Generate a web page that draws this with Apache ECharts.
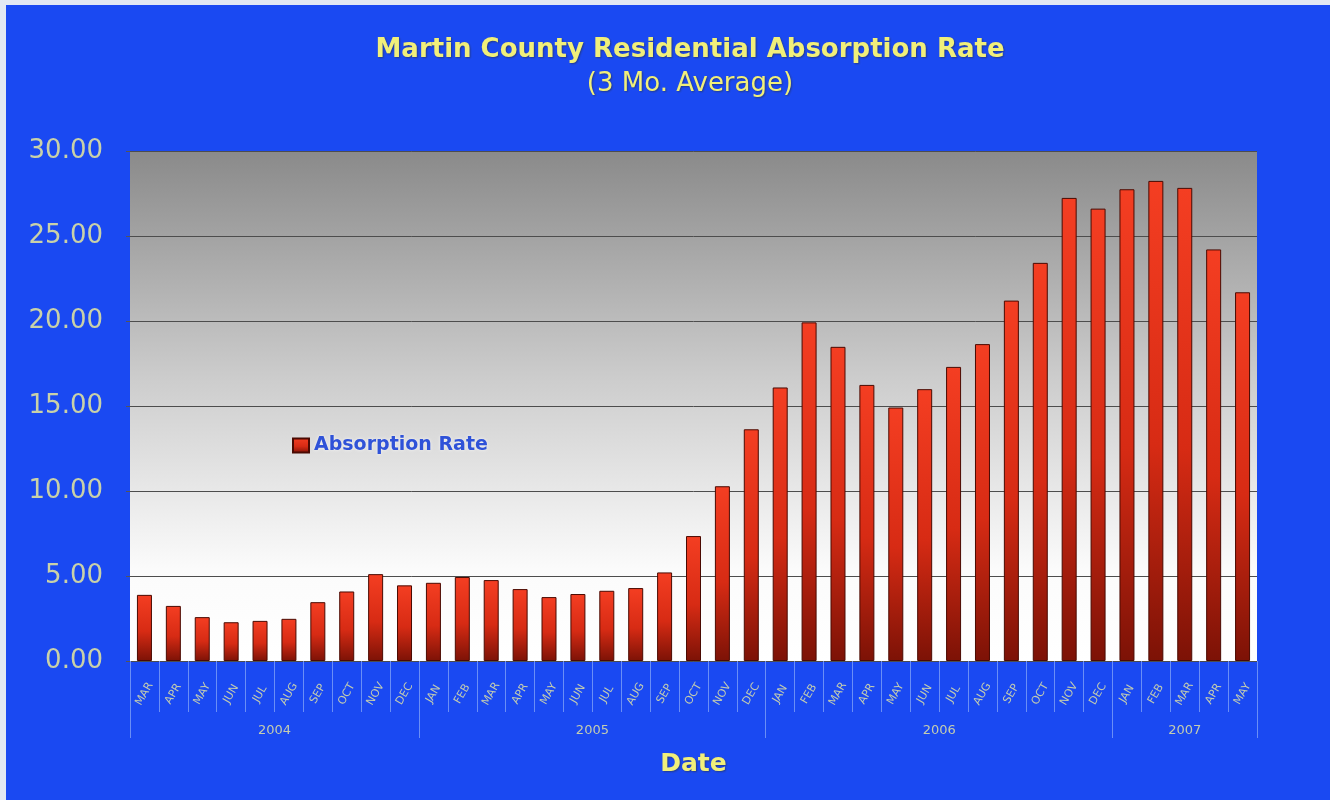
<!DOCTYPE html>
<html>
<head>
<meta charset="utf-8">
<script src="https://cdn.jsdelivr.net/npm/echarts@6/dist/echarts.min.js"></script>
<style>
  html, body { margin: 0; padding: 0; width: 1330px; height: 800px; background: #e2e8f3; overflow: hidden; }
  #chart { position: absolute; left: 6px; top: 5px; width: 1324px; height: 795px; background: #1a49f2; }
</style>
</head>
<body>
<div id="chart"></div>
<script>
// ---- data ----
const yearLabels = ['2004', '2005', '2006', '2007'];
const monthsPerYear = [10, 12, 12, 5];
const monthLabels = [
  'MAR','APR','MAY','JUN','JUL','AUG','SEP','OCT','NOV','DEC',
  'JAN','FEB','MAR','APR','MAY','JUN','JUL','AUG','SEP','OCT','NOV','DEC',
  'JAN','FEB','MAR','APR','MAY','JUN','JUL','AUG','SEP','OCT','NOV','DEC',
  'JAN','FEB','MAR','APR','MAY'
];
const rate2004 = [3.89, 3.24, 2.58, 2.28, 2.36, 2.48, 3.46, 4.09, 5.11, 4.45];
const rate2005 = [4.60, 4.94, 4.76, 4.23, 3.76, 3.94, 4.13, 4.29, 5.21, 7.35, 10.28, 13.63];
const rate2006 = [16.09, 19.92, 18.48, 16.24, 14.91, 15.99, 17.30, 18.64, 21.20, 23.42, 27.24, 26.61];
const rate2007 = [27.75, 28.24, 27.83, 24.21, 21.69];
const yTicks = { min: 0, max: 30, interval: 5 };
const seriesName = 'Absorption Rate';
const titleText = 'Martin County Residential Absorption Rate';
const subtitleText = '(3 Mo. Average)';
const xAxisTitle = 'Date';

// ---- derived ----
const absorption = [].concat(rate2004, rate2005, rate2006, rate2007);
const yearOfCategory = [];
const yearStarts = {};
const yearLabelIdx = {};
let pos = 0;
yearLabels.forEach(function (y, k) {
  const n = monthsPerYear[k];
  yearStarts[pos] = true;
  const mid = pos + (n - 1) / 2;
  yearLabelIdx[Math.floor(mid)] = (mid % 1 !== 0) ? 's' : 'c';
  for (let i = 0; i < n; i++) yearOfCategory.push(y);
  pos += n;
});

const paleText = '#c3ccb0';
const sepColor = '#6a8ef6';
const yellow = '#f1ef7a';

const chart = echarts.init(document.getElementById('chart'));
chart.setOption({
  animation: false,
  backgroundColor: '#1a49f2',
  title: [
    {
      text: titleText, left: 679, textAlign: 'center', top: 27,
      textStyle: { fontFamily: 'DejaVu Sans', fontWeight: 'bold', fontSize: 26, color: yellow,
        textShadowColor: 'rgba(40,40,40,0.5)', textShadowBlur: 2, textShadowOffsetX: 1, textShadowOffsetY: 1 }
    },
    {
      text: subtitleText, left: 679, textAlign: 'center', top: 61,
      textStyle: { fontFamily: 'DejaVu Sans', fontWeight: 'normal', fontSize: 26, color: yellow,
        textShadowColor: 'rgba(40,40,40,0.5)', textShadowBlur: 2, textShadowOffsetX: 1, textShadowOffsetY: 1 }
    }
  ],
  legend: {
    data: [seriesName],
    left: 281, top: 426,
    itemWidth: 16, itemHeight: 14,
    icon: 'rect',
    textStyle: { fontFamily: 'DejaVu Sans', fontWeight: 'bold', fontSize: 19, color: '#2f52d8',
      textShadowColor: 'rgba(255,255,255,0.8)', textShadowBlur: 3 }
  },
  grid: {
    left: 124, right: 73, top: 146, bottom: 139,
    show: true, borderWidth: 0,
    backgroundColor: {
      type: 'linear', x: 0, y: 0, x2: 0, y2: 1,
      colorStops: [
        { offset: 0, color: '#8a8a8a' },
        { offset: 0.45, color: '#cdcdcd' },
        { offset: 0.82, color: '#fbfbfb' },
        { offset: 1, color: '#ffffff' }
      ]
    }
  },
  xAxis: [
    {
      type: 'category', data: monthLabels, position: 'bottom', boundaryGap: true,
      axisLine: { show: false },
      axisTick: { show: true, interval: 0, length: 51, lineStyle: { color: sepColor, width: 1 } },
      axisLabel: { interval: 0, rotate: 60, margin: 33, align: 'center', verticalAlign: 'middle',
        fontFamily: 'DejaVu Sans', fontSize: 11, color: paleText },
      splitLine: { show: false },
      name: xAxisTitle, nameLocation: 'middle', nameGap: 91,
      nameTextStyle: { fontFamily: 'DejaVu Sans', fontWeight: 'bold', fontSize: 25, color: yellow,
        textShadowColor: 'rgba(40,40,40,0.5)', textShadowBlur: 2, textShadowOffsetX: 1, textShadowOffsetY: 1 }
    },
    {
      type: 'category', data: yearOfCategory, position: 'bottom', boundaryGap: true, offset: 0,
      axisLine: { show: false },
      axisTick: { show: true, length: 77, lineStyle: { color: sepColor, width: 1 },
        interval: function (i) { return !!yearStarts[i]; } },
      axisLabel: {
        margin: 63, fontFamily: 'DejaVu Sans', fontSize: 13, color: paleText,
        interval: function (i) { return !!yearLabelIdx[i]; },
        formatter: function (v, i) { return '{' + (yearLabelIdx[i] || 'c') + '|' + v + '}'; },
        rich: {
          s: { padding: [0, 0, 0, 29], fontFamily: 'DejaVu Sans', fontSize: 13, color: paleText },
          c: { fontFamily: 'DejaVu Sans', fontSize: 13, color: paleText }
        }
      },
      splitLine: { show: false }
    }
  ],
  yAxis: {
    type: 'value', min: yTicks.min, max: yTicks.max, interval: yTicks.interval,
    axisLine: { show: false },
    axisTick: { show: true, length: 4, lineStyle: { color: '#555555' } },
    axisLabel: { margin: 27, fontFamily: 'DejaVu Sans', fontSize: 26, color: '#c9d1a8',
      formatter: function (v) { return v.toFixed(2); } },
    splitLine: { show: true, lineStyle: { color: '#4d4d4d', width: 1 } }
  },
  series: [{
    name: seriesName, type: 'bar', xAxisIndex: 0, data: absorption,
    barWidth: 15,
    itemStyle: {
      borderColor: '#4a0a02', borderWidth: 1,
      color: {
        type: 'linear', x: 0, y: 0, x2: 0, y2: 1,
        colorStops: [
          { offset: 0, color: '#f43e22' },
          { offset: 0.55, color: '#d72b14' },
          { offset: 1, color: '#7c1206' }
        ]
      }
    }
  }]
});
</script>
</body>
</html>
